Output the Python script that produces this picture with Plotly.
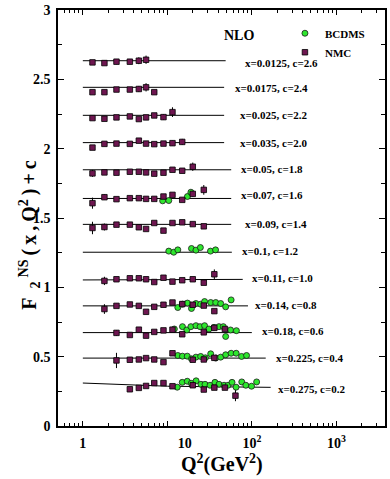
import plotly.graph_objects as go

# x bins and the offsets c added to each curve
x_bins = ["0.0125", "0.0175", "0.025", "0.035", "0.05", "0.07", "0.09",
          "0.1", "0.11", "0.14", "0.18", "0.225", "0.275"]
c_shift = ["2.6", "2.4", "2.2", "2.0", "1.8", "1.6", "1.4",
           "1.2", "1.0", "0.8", "0.6", "0.4", "0.2"]

# NMC points, one list per x bin (values are F2^NS + c)
nmc_q2 = [
    [1.3, 1.8, 2.5, 3.6, 4.6, 5.6],
    [1.3, 1.8, 2.5, 3.6, 4.6, 5.6, 7.0],
    [1.3, 1.8, 2.5, 3.6, 4.6, 5.6, 7.0, 9.0, 11.5],
    [1.3, 1.8, 2.5, 3.6, 4.6, 5.6, 7.0, 9.0, 11.5, 15],
    [1.3, 1.8, 2.5, 3.6, 4.6, 5.6, 7.0, 9.0, 11.5, 15, 20],
    [1.3, 1.8, 2.5, 3.6, 4.6, 5.6, 7.0, 9.0, 11.5, 15, 20, 27],
    [1.3, 1.8, 2.5, 3.6, 4.6, 5.6, 7.0, 9.0, 11.5, 15, 20, 27],
    [],
    [1.8, 2.5, 3.6, 4.6, 5.6, 7.0, 9.0, 11.5, 15, 20, 27, 36],
    [1.8, 2.5, 3.6, 4.6, 5.6, 7.0, 9.0, 11.5, 15, 20, 27, 36],
    [2.5, 3.6, 4.6, 5.6, 7.0, 9.0, 11.5, 15, 27, 36, 48],
    [2.5, 3.6, 4.6, 5.6, 7.0, 9.0, 11.5, 20, 27, 36],
    [3.6, 4.6, 5.6, 7.0, 9.0, 11.5, 20, 27, 36, 48, 64],
]
nmc_val = [
    [2.624, 2.619, 2.629, 2.629, 2.636, 2.643],
    [2.409, 2.409, 2.428, 2.428, 2.432, 2.444, 2.409],
    [2.222, 2.217, 2.227, 2.234, 2.215, 2.227, 2.241, 2.229, 2.265],
    [2.009, 2.036, 2.038, 2.036, 2.059, 2.038, 2.034, 2.038, 2.041, 2.050],
    [1.823, 1.830, 1.828, 1.835, 1.835, 1.830, 1.821, 1.828, 1.849, 1.842, 1.871],
    [1.608, 1.651, 1.637, 1.644, 1.644, 1.639, 1.639, 1.656, 1.668, 1.632, 1.675, 1.704],
    [1.429, 1.436, 1.453, 1.453, 1.434, 1.422, 1.465, 1.410, 1.465, 1.470, 1.457, 1.441],
    [],
    [1.047, 1.059, 1.066, 1.066, 1.059, 1.039, 1.070, 1.042, 1.052, 1.059, 1.034, 1.095],
    [0.844, 0.867, 0.877, 0.867, 0.824, 0.860, 0.875, 0.891, 0.880, 0.875, 0.869, 0.829],
    [0.672, 0.657, 0.695, 0.652, 0.679, 0.690, 0.695, 0.662, 0.676, 0.708, 0.700],
    [0.473, 0.478, 0.480, 0.490, 0.480, 0.461, 0.525, 0.478, 0.480, 0.492],
    [0.265, 0.275, 0.289, 0.310, 0.310, 0.287, 0.294, 0.263, 0.277, 0.277, 0.219],
]
nmc_err = [
    [0.006, 0.006, 0.018, 0.018, 0.025, 0.030],
    [0.006, 0.006, 0.012, 0.018, 0.022, 0.030, 0.012],
    [0.006, 0.006, 0.006, 0.006, 0.006, 0.015, 0.012, 0.020, 0.035],
    [0.006, 0.006, 0.006, 0.006, 0.008, 0.008, 0.008, 0.010, 0.018, 0.022],
    [0.025, 0.008, 0.008, 0.008, 0.008, 0.008, 0.008, 0.008, 0.012, 0.015, 0.030],
    [0.040, 0.020, 0.008, 0.008, 0.008, 0.008, 0.008, 0.010, 0.012, 0.012, 0.020, 0.035],
    [0.045, 0.025, 0.010, 0.010, 0.010, 0.010, 0.012, 0.012, 0.012, 0.012, 0.015, 0.015],
    [],
    [0.030, 0.015, 0.010, 0.010, 0.010, 0.015, 0.010, 0.010, 0.010, 0.012, 0.012, 0.035],
    [0.035, 0.015, 0.010, 0.010, 0.010, 0.010, 0.010, 0.010, 0.010, 0.010, 0.012, 0.015],
    [0.020, 0.010, 0.010, 0.010, 0.010, 0.010, 0.010, 0.010, 0.010, 0.012, 0.015],
    [0.055, 0.012, 0.010, 0.010, 0.010, 0.010, 0.010, 0.010, 0.010, 0.012],
    [0.010, 0.010, 0.010, 0.010, 0.010, 0.010, 0.010, 0.010, 0.012, 0.015, 0.040],
]

# BCDMS points
bcdms_q2 = [
    [], [], [], [], [],
    [8.8, 10.4, 17.3, 19.0],
    [],
    [10.4, 11.9, 13.3, 19.3, 21.8, 24.6, 32.4, 37.2],
    [],
    [13.3, 15.1, 17.3, 19.3, 21.8, 24.8, 27.6, 32.6, 37.4, 42.8, 49, 56.9],
    [12.1, 15.1, 17.0, 19.0, 21.8, 24.4, 27.6, 31.1, 35.7, 40.8, 46, 49, 56, 65.7],
    [13.3, 15.1, 17.2, 19.3, 21.8, 24.8, 28.2, 32.6, 37.4, 42.8, 49, 56.9, 65.3, 75.6, 86.6],
    [13.1, 15.0, 17.2, 19.2, 21.9, 25.0, 27.9, 32.0, 36.6, 40.9, 46.9, 52.3, 58.3,
     65.1, 76.0, 84.9, 99.2, 114],
]
bcdms_val = [
    [], [], [], [], [],
    [1.625, 1.627, 1.656, 1.687],
    [],
    [1.262, 1.254, 1.271, 1.281, 1.269, 1.288, 1.262, 1.271],
    [],
    [0.855, 0.879, 0.887, 0.848, 0.884, 0.879, 0.898, 0.891, 0.891, 0.884, 0.860, 0.910],
    [0.700, 0.717, 0.693, 0.717, 0.724, 0.717, 0.724, 0.700, 0.712, 0.717, 0.717,
     0.646, 0.693, 0.688],
    [0.509, 0.504, 0.504, 0.485, 0.497, 0.502, 0.492, 0.521, 0.490, 0.497, 0.514,
     0.525, 0.525, 0.502, 0.509],
    [0.280, 0.315, 0.323, 0.308, 0.326, 0.301, 0.301, 0.294, 0.315, 0.301, 0.294,
     0.294, 0.315, 0.280, 0.318, 0.294, 0.287, 0.318],
]

# NLO curves: value at Q2=1, Q2=10 and at the last Q2
line_q2_end = [49, 47, 47, 47, 57, 57, 57, 58, 78, 90, 100, 146, 167]
line_start = [2.636, 2.444, 2.242, 2.045, 1.849, 1.642, 1.455, 1.254, 1.054, 0.867, 0.674, 0.490, 0.310]
line_mid = [2.636, 2.444, 2.242, 2.045, 1.849, 1.642, 1.455, 1.254, 1.056, 0.867, 0.674, 0.490, 0.287]
line_end = [2.636, 2.444, 2.242, 2.045, 1.849, 1.642, 1.455, 1.254, 1.058, 0.867, 0.674, 0.490, 0.279]

serif = "Liberation Serif"
fig = go.Figure()

lx, ly = [], []
for q_end, v0, v1, v2 in zip(line_q2_end, line_start, line_mid, line_end):
    lx += [1.0, 10.0, q_end, None]
    ly += [v0, v1, v2, None]
fig.add_trace(go.Scatter(x=lx, y=ly, mode="lines", line=dict(color="black", width=1),
                         showlegend=False, hoverinfo="skip"))

fig.add_trace(go.Scatter(
    x=[q for row in bcdms_q2 for q in row],
    y=[v for row in bcdms_val for v in row],
    mode="markers", name="BCDMS",
    marker=dict(symbol="circle", size=6, color="#2ee62e", line=dict(color="#1a1a1a", width=0.8)),
))
fig.add_trace(go.Scatter(
    x=[q for row in nmc_q2 for q in row],
    y=[v for row in nmc_val for v in row],
    error_y=dict(type="data", array=[e for row in nmc_err for e in row],
                 color="black", thickness=1, width=0),
    mode="markers", name="NMC",
    marker=dict(symbol="square", size=5.5, color="#6e1650", line=dict(color="black", width=0.8)),
))

# curve labels (left edge in log10(Q2), y in plot units)
label_pos = [(1.894, 2.619), (1.776, 2.437), (1.839, 2.242), (1.839, 2.045), (1.847, 1.855),
             (1.847, 1.668), (1.898, 1.457), (1.859, 1.262), (1.973, 1.070), (2.015, 0.872),
             (2.091, 0.688), (2.259, 0.490), (2.286, 0.270)]
for xb, c, (px, py) in zip(x_bins, c_shift, label_pos):
    fig.add_annotation(x=px, y=py, text=f"x={xb}, c={c}", showarrow=False,
                       xanchor="left", yanchor="middle", xref="x", yref="y",
                       font=dict(family=serif, size=11, color="black", weight="bold"))

fig.add_annotation(x=1.847, y=2.817, text="NLO", showarrow=False, xref="x", yref="y",
                   font=dict(family=serif, size=14, color="black", weight="bold"))
fig.add_annotation(x=0.5, y=-0.09, xref="paper", yref="paper", showarrow=False,
                   text="Q<sup>2</sup>(GeV<sup>2</sup>)", xanchor="center", yanchor="middle",
                   font=dict(family=serif, size=20, color="black", weight="bold"))

# y title, spread out with thin spaces like the original lettering
ytitle = "\u2009".join(["F\u00a0", "<sub>2</sub>", "<sup>NS</sup>", "(", "x", ",",
                        "Q<sup>2</sup>", ")", "+", "c"])
fig.add_annotation(x=-0.085, y=0.458, xref="paper", yref="paper", showarrow=False,
                   text=ytitle, textangle=-90, xanchor="center", yanchor="middle",
                   font=dict(family=serif, size=20, color="black", weight="bold"))

minor_x = [0.6, 0.7, 0.8, 0.9] + [m * 10 ** k for k in range(0, 3) for m in range(2, 10)] + [2000, 3000]
axis_font = dict(family=serif, size=14, color="black", weight="bold")

fig.update_xaxes(
    type="log", range=[-0.294, 3.576],
    tickvals=[1, 10, 100, 1000],
    ticktext=["1", "\u00a0" * 10 + "10", "10<sup>2</sup>", "10<sup>3</sup>"],
    ticks="inside", ticklen=5, tickwidth=1, tickcolor="black",
    showline=True, linecolor="black", linewidth=1.5, mirror="ticks",
    showgrid=False, zeroline=False, tickfont=axis_font, ticklabelstandoff=3,
    minor=dict(tickvals=minor_x, ticks="inside", ticklen=3, tickcolor="black", showgrid=False),
)
fig.update_yaxes(
    range=[0, 3.002],
    tickvals=[0, 0.5, 1, 1.5, 2, 2.5, 3],
    ticktext=["0", "0.5", "1", "1.5", "2", "2.5", "3"],
    ticks="inside", ticklen=6, tickwidth=1, tickcolor="black",
    showline=True, linecolor="black", linewidth=1.5, mirror="ticks",
    showgrid=False, zeroline=False, tickfont=axis_font, ticklabelstandoff=3,
    minor=dict(dtick=0.25, ticks="inside", ticklen=4, tickcolor="black", showgrid=False),
)

fig.update_layout(
    width=390, height=479,
    margin=dict(l=58, r=3, t=7, b=53),
    paper_bgcolor="white", plot_bgcolor="white",
    font=dict(family=serif, color="black"),
    showlegend=True,
    legend=dict(x=0.694, y=0.979, xanchor="left", yanchor="top",
                bgcolor="rgba(0,0,0,0)", borderwidth=0,
                font=dict(family=serif, size=11, color="black", weight="bold")),
)

# the page body has a default 8px margin; drop it so the figure sits at the corner
fig.write_html("out.html", config={"displayModeBar": False},
               post_script="document.body.style.margin='0px';")
